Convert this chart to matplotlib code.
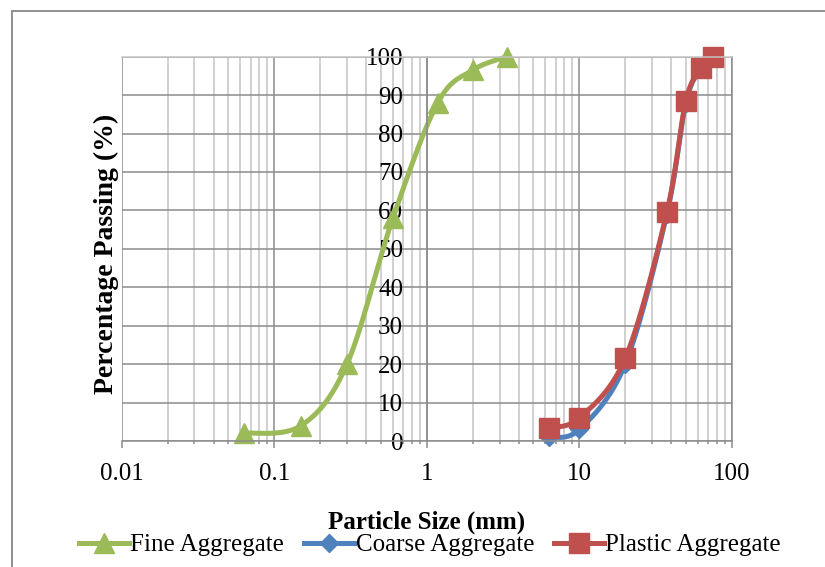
import numpy as np
import matplotlib
matplotlib.use("Agg")
import matplotlib.pyplot as plt
from matplotlib.lines import Line2D
from matplotlib.patches import Rectangle
from matplotlib.ticker import FixedLocator, LogLocator, NullFormatter

plt.rcParams['font.family'] = ['Liberation Serif', 'DejaVu Serif']

# sieve analysis data
fine_size = [0.063, 0.15, 0.3, 0.6, 1.18, 2.0, 3.35]
fine_pass = [2, 4, 20, 58, 88, 96.5, 100]

coarse_size = [6.3, 10, 20, 37.5, 50, 63, 75]
coarse_pass = [1, 3, 20, 59, 88, 97, 100]

plastic_size = [6.3, 10, 20, 37.5, 50, 63, 75]
plastic_pass = [3.5, 6, 21.5, 59.5, 88.5, 97, 100]

x_ticks = [0.01, 0.1, 1, 10, 100]
x_labels = ['0.01', '0.1', '1', '10', '100']
y_ticks = list(range(0, 101, 10))

green = '#9BBB59'
blue = '#4F81BD'
red = '#C0504D'


def smooth(xs, ys, n=40):
    # excel style smoothed line: bezier segments, done in log-x space
    px = np.log10(np.asarray(xs, float))
    py = np.asarray(ys, float)
    P = np.column_stack([px, py])
    P = np.vstack([P[0], P, P[-1]])
    out = []
    t = np.linspace(0, 1, n)[:, None]
    for i in range(1, len(P) - 2):
        p0, p3 = P[i], P[i + 1]
        c1 = p0 + (P[i + 1] - P[i - 1]) / 6
        c2 = p3 - (P[i + 2] - P[i]) / 6
        seg = ((1 - t) ** 3) * p0 + 3 * ((1 - t) ** 2) * t * c1 + 3 * (1 - t) * t ** 2 * c2 + t ** 3 * p3
        out.append(seg)
    out = np.vstack(out)
    return 10 ** out[:, 0], out[:, 1]


fig = plt.figure(figsize=(8.25, 5.67), dpi=100)
ax = fig.add_axes([0.1475, 0.2222, 0.7395, 0.6778])

ax.set_xscale('log')
ax.set_xlim(0.01, 100)
ax.set_ylim(0, 100)

ax.xaxis.set_major_locator(FixedLocator(x_ticks))
ax.set_xticklabels(x_labels)
ax.xaxis.set_minor_locator(LogLocator(base=10, subs=np.arange(2, 10)))
ax.xaxis.set_minor_formatter(NullFormatter())
ax.set_yticks(y_ticks)

ax.grid(True, which='major', color='#8c8c8c', linewidth=1.1)
ax.grid(True, which='minor', axis='x', color='#c4c4c4', linewidth=1.1)
ax.set_axisbelow(True)

ax.spines['left'].set_position(('data', 1))
ax.spines['left'].set_color('#8c8c8c')
ax.spines['bottom'].set_color('#8c8c8c')
ax.spines['right'].set_color('#8c8c8c')
ax.spines['top'].set_color('#c4c4c4')
for s in ax.spines.values():
    s.set_linewidth(1.1)

ax.tick_params(axis='x', which='major', length=5, width=1.1, color='#8c8c8c', pad=11, labelsize=18)
ax.tick_params(axis='x', which='minor', length=2.5, width=1.1, color='#8c8c8c')
ax.tick_params(axis='y', length=0, pad=17, labelsize=18)

for xs, ys, c, m, ms in [(fine_size, fine_pass, green, '^', 15),
                         (coarse_size, coarse_pass, blue, 'D', 9),
                         (plastic_size, plastic_pass, red, 's', 14)]:
    sx, sy = smooth(xs, ys)
    ax.plot(sx, sy, color=c, linewidth=3.6, solid_capstyle='round', clip_on=False)
    ax.plot(xs, ys, linestyle='none', marker=m, color=c, markersize=ms, clip_on=False)

fig.text(106 / 825, 1 - 254 / 567, 'Percentage Passing (%)', rotation=90, fontsize=20,
         fontweight='bold', ha='center', va='center')

fig.text(427 / 825, 1 - 522 / 567, 'Particle Size (mm)', fontsize=18, fontweight='bold',
         ha='center', va='center')

handles = [Line2D([], [], color=green, linewidth=3.6, marker='^', markersize=15),
           Line2D([], [], color=blue, linewidth=3.6, marker='D', markersize=9),
           Line2D([], [], color=red, linewidth=3.6, marker='s', markersize=14)]
fig.legend(handles, ['Fine Aggregate', 'Coarse Aggregate', 'Plastic Aggregate'],
           loc='center', bbox_to_anchor=(430 / 825, 1 - 545 / 567), ncol=3, frameon=False,
           fontsize=18, handlelength=2.0, handletextpad=0.05, columnspacing=0.8,
           borderaxespad=0, borderpad=0)

fig.patches.append(Rectangle((12 / 825, -0.1), 1.2, 1 - 11 / 567 + 0.1, transform=fig.transFigure,
                             fill=False, edgecolor='#888888', linewidth=1.3))

fig.savefig('out.png', dpi=100)
